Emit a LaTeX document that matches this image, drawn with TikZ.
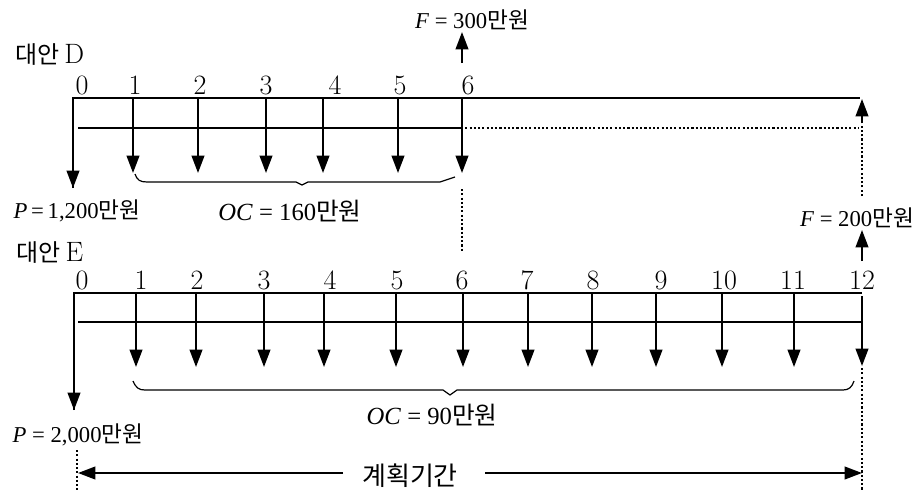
\documentclass[tikz,border=0pt]{standalone}
\usepackage{fontspec}
\newfontfamily\tnr{Liberation Serif}
\newfontfamily\kr{Noto Sans CJK KR}
\usetikzlibrary{arrows.meta}
\tikzset{
  axisline/.style={line width=1.1pt},
  innerline/.style={line width=0.9pt},
  arr/.style={line width=1.4pt, -{Triangle[length=13pt,width=9.5pt]}},
  dotline/.style={line width=1.4pt, dash pattern=on 1.6pt off 1.6pt},
  bracepath/.style={line width=0.9pt},
  num/.style={font=\fontsize{21}{24}\selectfont, inner sep=0pt},
  val/.style={font=\fontsize{17}{20}\selectfont, inner sep=0pt},
  ocval/.style={font=\fontsize{18.5}{22}\selectfont, inner sep=0pt},
  alt/.style={inner sep=0pt},
  period/.style={font=\kr\fontsize{19.5}{23}\selectfont, inner sep=0pt},
}
\begin{document}
\begin{tikzpicture}[x=0.75pt,y=-0.75pt]
\useasboundingbox (0,0) rectangle (921,490);

% ---------------- Alternative D ----------------
\node[alt] (altD) at (50,55) {{\kr\fontsize{18}{20}\selectfont 대안}\ {\fontsize{21}{24}\selectfont D}};
\coordinate (dTL) at (73,98);
\coordinate (dTR) at (860,98);
\coordinate (dP) at (73,188);
\draw[axisline] (dP) -- (dTL) -- (dTR);
\draw[arr] (dTL) -- (dP);
\coordinate (dI0) at (78,128);
\coordinate (dI6) at (461,128);
\coordinate (dIR) at (858,128);
\draw[innerline] (dI0) -- (dI6);
\draw[dotline] (dI6) -- (dIR);
\foreach \i/\x in {1/133,2/198,3/266,4/323,5/398,6/462}{
  \coordinate (dt\i) at (\x,98);
  \coordinate (da\i) at (\x,173);
  \draw[arr] (dt\i) -- (da\i);
}
\foreach \i/\x in {0/82,1/135,2/200,3/266,4/335,5/400,6/468}{
  \node[num] (dn\i) at (\x,85) {\i};
}
% F = 300
\coordinate (f3s) at (462,63);
\coordinate (f3e) at (462,32);
\draw[arr] (f3s) -- (f3e);
\node[val] (lF3) at (472,20) {{\tnr\textit{F} = 300}{\kr 만원}};
% F = 200 (dotted riser)
\coordinate (f2a) at (862,196);
\coordinate (f2b) at (862,121);
\coordinate (f2t) at (862,99);
\draw[dotline] (f2a) -- (f2b);
\draw[arr] (f2b) -- (f2t);
% P = 1,200
\node[val] (lP1) at (77,211) {{\tnr\textit{P}\,=\,1,200}{\kr 만원}};
% brace D
\coordinate (bd1) at (135,174);
\coordinate (bd2) at (147,182);
\coordinate (bd3) at (296,182);
\coordinate (bd4) at (302,185);
\coordinate (bd5) at (308,182);
\coordinate (bd6) at (440,182);
\coordinate (bd7) at (455,177);
\draw[bracepath] (bd1) .. controls (137,180) and (140,182) .. (bd2) -- (bd3) -- (bd4) -- (bd5) -- (bd6) -- (bd7);
\node[ocval] (lOC1) at (290,211) {{\tnr\textit{OC} = 160}{\kr 만원}};
% dotted link D6 -> E6
\coordinate (lk1) at (462,189);
\coordinate (lk2) at (462,252);
\draw[dotline] (lk1) -- (lk2);

% ---------------- Alternative E ----------------
\node[alt] (altE) at (50,253) {{\kr\fontsize{18}{20}\selectfont 대안}\ {\fontsize{21}{24}\selectfont E}};
\coordinate (eTL) at (74,293);
\coordinate (eTR) at (862,293);
\coordinate (eP) at (74,410);
\draw[axisline] (eP) -- (eTL) -- (eTR);
\draw[arr] (eTL) -- (eP);
\coordinate (eI0) at (78,322);
\coordinate (eIR) at (861,322);
\draw[innerline] (eI0) -- (eIR);
\foreach \i/\x in {1/136,2/196,3/264,4/324,5/396,6/463,7/528,8/592,9/656,10/722,11/794}{
  \coordinate (et\i) at (\x,293);
  \coordinate (ea\i) at (\x,367);
  \draw[arr] (et\i) -- (ea\i);
}
\coordinate (et12) at (862,296);
\coordinate (ea12) at (862,366);
\draw[arr] (et12) -- (ea12);
\foreach \i/\x in {0/82,1/141,2/197,3/264,4/330,5/397,6/462,7/527,8/593,9/661,10/724,11/793,12/862}{
  \node[num] (en\i) at (\x,280) {\i};
}
% F = 200
\coordinate (f2s) at (862,261);
\coordinate (f2e) at (862,230);
\draw[arr] (f2s) -- (f2e);
\node[val] (lF2) at (857,218) {{\tnr\textit{F} = 200}{\kr 만원}};
% P = 2,000
\node[val] (lP2) at (78,435) {{\tnr\textit{P} = 2,000}{\kr 만원}};
% brace E
\coordinate (be1) at (133,381);
\coordinate (be2) at (145,390);
\coordinate (be3) at (443,390);
\coordinate (be4) at (450,395);
\coordinate (be5) at (457,390);
\coordinate (be6) at (843,390);
\coordinate (be7) at (854,381);
\draw[bracepath] (be1) .. controls (136,388) and (139,390) .. (be2) -- (be3) -- (be4) -- (be5) -- (be6) .. controls (849,390) and (852,387) .. (be7);
\node[ocval] (lOC2) at (432,415) {{\tnr\textit{OC} = 90}{\kr 만원}};

% ---------------- planning period ----------------
\coordinate (pl1) at (77,450);
\coordinate (pl2) at (77,490);
\coordinate (pr1) at (862,368);
\coordinate (pr2) at (862,490);
\draw[dotline] (pl1) -- (pl2);
\draw[dotline] (pr1) -- (pr2);
\node[period] (plan) at (410,476) {계획기간};
\coordinate (pa1) at (343,473);
\coordinate (pa2) at (78,473);
\coordinate (pa3) at (485,473);
\coordinate (pa4) at (862,473);
\draw[arr] (pa1) -- (pa2);
\draw[arr] (pa3) -- (pa4);
\end{tikzpicture}
\end{document}
